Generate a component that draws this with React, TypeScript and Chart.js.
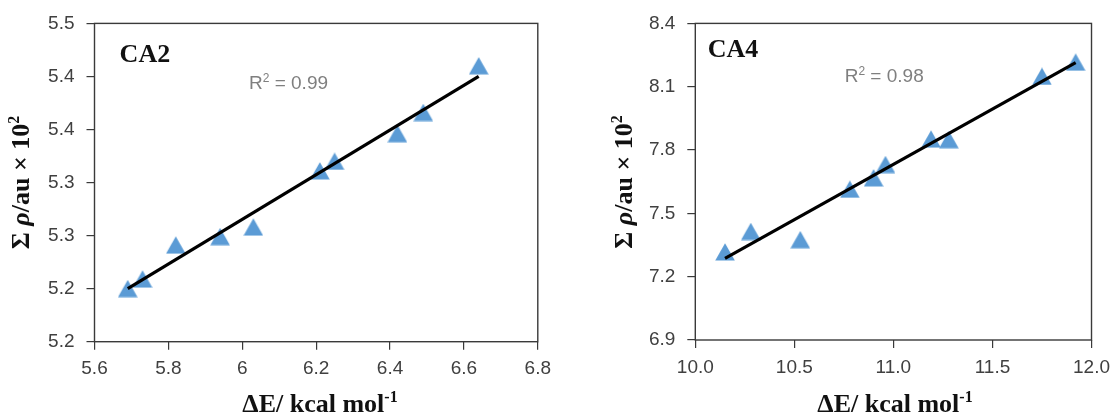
import React, { useEffect, useRef } from "react";
import { Chart, registerables } from "chart.js";

Chart.register(...registerables);

// ---------- data ----------
const ca2Energy = [5.69, 5.73, 5.82, 5.94, 6.03, 6.21, 6.25, 6.42, 6.49, 6.64];
const ca2Rho = [5.2, 5.209, 5.241, 5.249, 5.258, 5.311, 5.32, 5.346, 5.366, 5.41];
const ca2XTicks = [5.6, 5.8, 6.0, 6.2, 6.4, 6.6, 6.8];
const ca2XTickLabels = ["5.6", "5.8", "6", "6.2", "6.4", "6.6", "6.8"];
const ca2YTicks = [5.15, 5.2, 5.25, 5.3, 5.35, 5.4, 5.45];
const ca2YTickLabels = ["5.2", "5.2", "5.3", "5.3", "5.4", "5.4", "5.5"];

const ca4Energy = [10.15, 10.28, 10.53, 10.78, 10.9, 10.96, 11.19, 11.28, 11.75, 11.92];
const ca4Rho = [7.317, 7.414, 7.375, 7.614, 7.668, 7.731, 7.852, 7.849, 8.149, 8.216];
const ca4XTicks = [10.0, 10.5, 11.0, 11.5, 12.0];
const ca4XTickLabels = ["10.0", "10.5", "11.0", "11.5", "12.0"];
const ca4YTicks = [6.9, 7.2, 7.5, 7.8, 8.1, 8.4];
const ca4YTickLabels = ["6.9", "7.2", "7.5", "7.8", "8.1", "8.4"];

const ca2Label = "CA2";
const ca4Label = "CA4";
const ca2R2 = "0.99";
const ca4R2 = "0.98";

// ---------- styling ----------
const SERIF = '"Liberation Serif", "Times New Roman", serif';
const SANS = '"Liberation Sans", Arial, sans-serif';
const MARKER = "#5B9BD5";
const AXIS = "#3a3a3a";
const TICK_TEXT = "#404040";

type Seg = { t: string; font: string; rise?: number };

function drawRich(
  ctx: CanvasRenderingContext2D,
  segs: Seg[],
  x: number,
  y: number,
  align: "left" | "center",
  rotate: boolean,
  color: string
) {
  ctx.save();
  ctx.fillStyle = color;
  ctx.textBaseline = "alphabetic";
  ctx.textAlign = "left";
  let total = 0;
  const widths = segs.map((s) => {
    ctx.font = s.font;
    const w = ctx.measureText(s.t).width;
    total += w;
    return w;
  });
  ctx.translate(x, y);
  if (rotate) ctx.rotate(-Math.PI / 2);
  let cx = align === "center" ? -total / 2 : 0;
  segs.forEach((s, i) => {
    ctx.font = s.font;
    ctx.fillText(s.t, cx, -(s.rise || 0));
    cx += widths[i];
  });
  ctx.restore();
}

function fitLine(xs: number[], ys: number[]) {
  const n = xs.length;
  const mx = xs.reduce((a, b) => a + b, 0) / n;
  const my = ys.reduce((a, b) => a + b, 0) / n;
  let sxy = 0;
  let sxx = 0;
  for (let i = 0; i < n; i++) {
    sxy += (xs[i] - mx) * (ys[i] - my);
    sxx += (xs[i] - mx) * (xs[i] - mx);
  }
  const slope = sxy / sxx;
  const b = my - slope * mx;
  const x0 = Math.min(...xs);
  const x1 = Math.max(...xs);
  return [
    { x: x0, y: slope * x0 + b },
    { x: x1, y: slope * x1 + b },
  ];
}

function makeTriangle() {
  const c = document.createElement("canvas");
  c.width = 20;
  c.height = 18;
  const g = c.getContext("2d")!;
  g.fillStyle = MARKER;
  g.beginPath();
  g.moveTo(10, 0.3);
  g.lineTo(19.8, 17.6);
  g.lineTo(0.2, 17.6);
  g.closePath();
  g.fill();
  return c;
}

type Panel = {
  left: number;
  width: number;
  xs: number[];
  ys: number[];
  xTicks: number[];
  xTickLabels: string[];
  yTicks: number[];
  yTickLabels: string[];
  yAxisWidth: number;
  xAxisHeight: number;
  padTop: number;
  padRight: number;
  yTitlePos: [number, number];
  xTitlePos: [number, number];
  label: string;
  labelPos: [number, number];
  r2: string;
  r2Pos: [number, number];
};

const panels: Panel[] = [
  {
    left: 0,
    width: 559,
    xs: ca2Energy,
    ys: ca2Rho,
    xTicks: ca2XTicks,
    xTickLabels: ca2XTickLabels,
    yTicks: ca2YTicks,
    yTickLabels: ca2YTickLabels,
    yAxisWidth: 94.5,
    xAxisHeight: 74.3,
    padTop: 21,
    padRight: 13,
    yTitlePos: [29, 182.5],
    xTitlePos: [320, 412],
    label: ca2Label,
    labelPos: [119.6, 61.7],
    r2: ca2R2,
    r2Pos: [249, 89.3],
  },
  {
    left: 559,
    width: 559,
    xs: ca4Energy,
    ys: ca4Rho,
    xTicks: ca4XTicks,
    xTickLabels: ca4XTickLabels,
    yTicks: ca4YTicks,
    yTickLabels: ca4YTickLabels,
    yAxisWidth: 136.3,
    xAxisHeight: 76,
    padTop: 21,
    padRight: 23.1,
    yTitlePos: [73, 182],
    xTitlePos: [336, 412],
    label: ca4Label,
    labelPos: [148.7, 57.3],
    r2: ca4R2,
    r2Pos: [285.7, 81.7],
  },
];

function buildConfig(p: Panel): any {
  const tri = makeTriangle();
  const points = p.xs.map((x, i) => ({ x, y: p.ys[i] }));
  const trend = fitLine(p.xs, p.ys);

  const overlay = {
    id: "overlay",
    afterDraw(chart: any) {
      const ctx: CanvasRenderingContext2D = chart.ctx;
      const a = chart.chartArea;
      ctx.save();
      ctx.strokeStyle = AXIS;
      ctx.lineWidth = 1.4;
      ctx.strokeRect(a.left, a.top, a.right - a.left, a.bottom - a.top);
      ctx.restore();

      drawRich(ctx, [{ t: p.label, font: `bold 26px ${SERIF}` }], p.labelPos[0], p.labelPos[1], "left", false, "#111");
      drawRich(
        ctx,
        [
          { t: "R", font: `19px ${SANS}` },
          { t: "2", font: `12px ${SANS}`, rise: 7 },
          { t: " = " + p.r2, font: `19px ${SANS}` },
        ],
        p.r2Pos[0],
        p.r2Pos[1],
        "left",
        false,
        "#7f7f7f"
      );
      drawRich(
        ctx,
        [
          { t: "ΔE/ kcal mol", font: `bold 26px ${SERIF}` },
          { t: "-1", font: `bold 16px ${SERIF}`, rise: 10 },
        ],
        p.xTitlePos[0],
        p.xTitlePos[1],
        "center",
        false,
        "#111"
      );
      drawRich(
        ctx,
        [
          { t: "Σ ", font: `bold 26px ${SERIF}` },
          { t: "ρ", font: `italic bold 26px ${SERIF}` },
          { t: "/au × 10", font: `bold 26px ${SERIF}` },
          { t: "2", font: `bold 16px ${SERIF}`, rise: 10 },
        ],
        p.yTitlePos[0],
        p.yTitlePos[1],
        "center",
        true,
        "#111"
      );
    },
  };

  const tickFont = { family: SANS, size: 19 };

  return {
    type: "scatter",
    data: {
      datasets: [
        {
          label: "trend",
          data: trend,
          showLine: true,
          borderColor: "#000",
          borderWidth: 3.2,
          pointRadius: 0,
          order: 0,
        },
        {
          label: "points",
          data: points,
          pointStyle: tri,
          pointRadius: 10,
          backgroundColor: MARKER,
          borderColor: MARKER,
          order: 1,
        },
      ],
    },
    options: {
      responsive: false,
      animation: false,
      devicePixelRatio: 1,
      events: [],
      layout: { padding: { left: 0, top: p.padTop, right: p.padRight, bottom: 0 } },
      plugins: { legend: { display: false }, tooltip: { enabled: false } },
      scales: {
        x: {
          type: "linear",
          min: p.xTicks[0],
          max: p.xTicks[p.xTicks.length - 1],
          afterBuildTicks: (s: any) => {
            s.ticks = p.xTicks.map((v) => ({ value: v }));
          },
          afterFit: (s: any) => {
            s.height = p.xAxisHeight;
          },
          ticks: {
            callback: (_v: any, i: number) => p.xTickLabels[i],
            font: tickFont,
            color: TICK_TEXT,
            padding: 8,
            maxRotation: 0,
            autoSkip: false,
          },
          grid: { drawOnChartArea: false, drawTicks: true, tickLength: 8, color: AXIS, lineWidth: 1.2 },
          border: { display: false },
        },
        y: {
          type: "linear",
          min: p.yTicks[0],
          max: p.yTicks[p.yTicks.length - 1],
          afterBuildTicks: (s: any) => {
            s.ticks = p.yTicks.map((v) => ({ value: v }));
          },
          afterFit: (s: any) => {
            s.width = p.yAxisWidth;
          },
          ticks: {
            callback: (_v: any, i: number) => p.yTickLabels[i],
            font: tickFont,
            color: TICK_TEXT,
            padding: 12,
            autoSkip: false,
          },
          grid: { drawOnChartArea: false, drawTicks: true, tickLength: 8, color: AXIS, lineWidth: 1.2 },
          border: { display: false },
        },
      },
    },
    plugins: [overlay],
  };
}

function ScatterPanel({ p }: { p: Panel }) {
  const ref = useRef<HTMLCanvasElement | null>(null);
  useEffect(() => {
    if (!ref.current) return;
    const chart = new Chart(ref.current, buildConfig(p));
    return () => chart.destroy();
  }, [p]);
  return (
    <canvas
      ref={ref}
      width={p.width}
      height={416}
      style={{ position: "absolute", left: p.left, top: 0, width: p.width, height: 416 }}
    />
  );
}

export default function App() {
  return (
    <div
      style={{
        position: "absolute",
        left: 0,
        top: 0,
        width: 1118,
        height: 416,
        background: "#fff",
        overflow: "hidden",
      }}
    >
      {panels.map((p, i) => (
        <ScatterPanel key={i} p={p} />
      ))}
    </div>
  );
}
